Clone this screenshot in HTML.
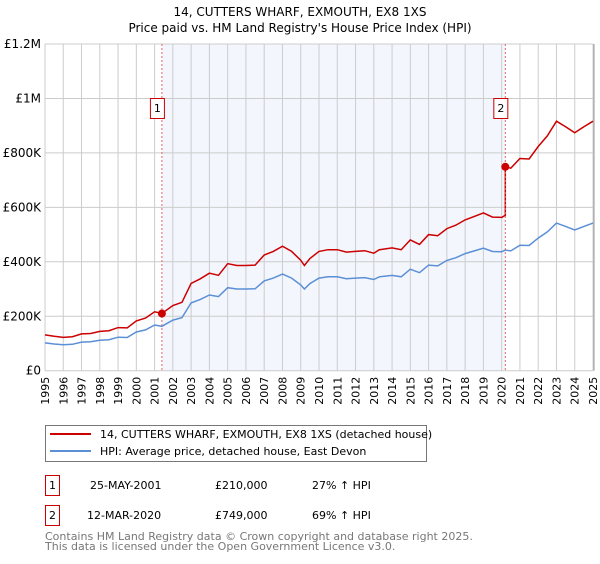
<!DOCTYPE html>
<html><head><meta charset="utf-8"><style>
body{margin:0;background:#fff;font-family:"DejaVu Sans","Liberation Sans",sans-serif}
svg text{font-family:"DejaVu Sans","Liberation Sans",sans-serif}
</style></head><body>
<svg id="c" width="600" height="560" xmlns="http://www.w3.org/2000/svg">
<text x="300" y="16" text-anchor="middle" font-size="12">14, CUTTERS WHARF, EXMOUTH, EX8 1XS</text>
<text x="300" y="32" text-anchor="middle" font-size="12">Price paid vs. HM Land Registry's House Price Index (HPI)</text>
<g id="grid"></g>
<g id="marks"></g>
<g id="axes"></g>
<g>
<rect x="45.5" y="425.5" width="381" height="36" fill="#fff" stroke="#777"/>
<line x1="50" y1="434" x2="91" y2="434" stroke="#cc0000" stroke-width="2"/>
<text x="100" y="438" font-size="11">14, CUTTERS WHARF, EXMOUTH, EX8 1XS (detached house)</text>
<line x1="50" y1="451" x2="91" y2="451" stroke="#5b8fd6" stroke-width="2"/>
<text x="100" y="455" font-size="11">HPI: Average price, detached house, East Devon</text>
</g>
<g font-size="11">
<rect x="45.5" y="475.5" width="14" height="20" fill="#fff" stroke="#cc0000"/>
<text x="52.5" y="489" text-anchor="middle">1</text>
<text x="90" y="489">25-MAY-2001</text>
<text x="215" y="489">£210,000</text>
<text x="312" y="489">27% ↑ HPI</text>
<rect x="45.5" y="505.5" width="14" height="20" fill="#fff" stroke="#cc0000"/>
<text x="52.5" y="519" text-anchor="middle">2</text>
<text x="87" y="519">12-MAR-2020</text>
<text x="215" y="519">£749,000</text>
<text x="312" y="519">69% ↑ HPI</text>
</g>
<text x="45" y="540" font-size="11" fill="#777">Contains HM Land Registry data © Crown copyright and database right 2025.</text>
<text x="45" y="550" font-size="11" fill="#777">This data is licensed under the Open Government Licence v3.0.</text>
</svg>
<script>
const hpiYears=[1995,1995.5,1996,1996.5,1997,1997.5,1998,1998.5,1999,1999.5,2000,2000.5,2001,2001.4,2002,2002.5,2003,2003.5,2004,2004.5,2005,2005.5,2006,2006.5,2007,2007.5,2008,2008.5,2009,2009.2,2009.5,2010,2010.5,2011,2011.5,2012,2012.5,2013,2013.3,2014,2014.5,2015,2015.5,2016,2016.5,2017,2017.5,2018,2018.5,2019,2019.5,2020,2020.2,2020.5,2021,2021.5,2022,2022.5,2023,2023.5,2024,2024.5,2025];
const hpiValues=[102,98,95,97,105,106,112,114,123,122,142,150,168,163,186,195,249,262,278,272,305,300,300,301,330,340,355,340,315,300,320,340,345,345,338,340,342,335,345,350,345,373,360,388,385,405,415,430,440,450,438,437,443,440,461,460,487,510,542,530,517,530,542];
const saleDates=[2001.4,2020.2];
const salePrices=[210,749];
const saleLabels=["1","2"];
const yTicks=[0,200,400,600,800,1000,1200];
const yTickLabels=["£0","£200K","£400K","£600K","£800K","£1M","£1.2M"];
const NS="http://www.w3.org/2000/svg";
const X0=45,X1=593,Y0=370.7,Y1=44;
const xs=y=>X0+(y-1995)/30*(X1-X0);
const ys=v=>Y0-v/1200*(Y0-Y1);
function mk(p,t,a){const e=document.createElementNS(NS,t);for(const k in a)e.setAttribute(k,a[k]);p.appendChild(e);return e;}
const grid=document.getElementById('grid'),marks=document.getElementById('marks'),axes=document.getElementById('axes');
let r=mk(grid,'rect',{x:xs(saleDates[0]),y:Y1,width:xs(saleDates[1])-xs(saleDates[0]),height:Y0-Y1,fill:'#f3f6fd'});


for(let yr=1995;yr<=2025;yr++){
  const l=mk(grid,'line',{x1:xs(yr),x2:xs(yr),y1:Y1,y2:Y0,stroke:'#ccc','stroke-width':1});
  
  
  const t=mk(axes,'text',{x:0,y:0,'font-size':11,'text-anchor':'end',transform:`translate(${xs(yr)+4},${Y0+6}) rotate(-90)`});
  t.textContent=yr;
  
  
}
yTicks.forEach((v,i)=>{
  const l=mk(grid,'line',{x1:X0,x2:X1,y1:ys(v),y2:ys(v),stroke:'#ccc','stroke-width':1});
  
  
  const t=mk(axes,'text',{x:X0-4,y:ys(v)+4,'font-size':12,'text-anchor':'end'});
  t.textContent=yTickLabels[i];
  
  
});
const ax=mk(axes,'line',{x1:X1+1,x2:X1+1,y1:Y1,y2:Y0,stroke:'#999'});


// red series: HPI scaled by ratio at each sale
function ratioAt(y){const h0=interp(saleDates[0]),h1=interp(saleDates[1]);return y<saleDates[1]?salePrices[0]/h0:salePrices[1]/h1;}
function interp(y){for(let i=0;i<hpiYears.length-1;i++){if(y>=hpiYears[i]&&y<=hpiYears[i+1]){const f=(y-hpiYears[i])/(hpiYears[i+1]-hpiYears[i]);return hpiValues[i]+f*(hpiValues[i+1]-hpiValues[i]);}}return hpiValues[hpiValues.length-1];}
let hp=hpiYears.map((y,i)=>`${xs(y).toFixed(1)},${ys(hpiValues[i]).toFixed(1)}`).join(' ');
const hl=mk(marks,'polyline',{points:hp,fill:'none',stroke:'#5b8fd6','stroke-width':1.5});


let rp=[];
hpiYears.forEach((y,i)=>{
  if(y===saleDates[1]){rp.push([xs(y),ys(hpiValues[i]*salePrices[0]/interp(saleDates[0]))]);}
  rp.push([xs(y),ys(hpiValues[i]*ratioAt(y))]);
});
const rl=mk(marks,'polyline',{points:rp.map(p=>p[0].toFixed(1)+','+p[1].toFixed(1)).join(' '),fill:'none',stroke:'#cc0000','stroke-width':1.5});


saleDates.forEach((d,i)=>{
  const l=mk(marks,'line',{x1:xs(d),x2:xs(d),y1:Y1,y2:Y0,stroke:'#e06666','stroke-dasharray':'2,2'});
  
  
  const c=mk(marks,'circle',{cx:xs(d),cy:ys(salePrices[i]),r:4,fill:'#cc0000'});
  
  
  const b=mk(marks,'rect',{x:xs(d)-11.5,y:98.5,width:14,height:20,fill:'#fff',stroke:'#cc0000'});
  
  
  const t=mk(marks,'text',{x:xs(d)-4.5,y:112,'font-size':11,'text-anchor':'middle'});
  t.textContent=saleLabels[i];
  
  
});
</script>
</body></html>
